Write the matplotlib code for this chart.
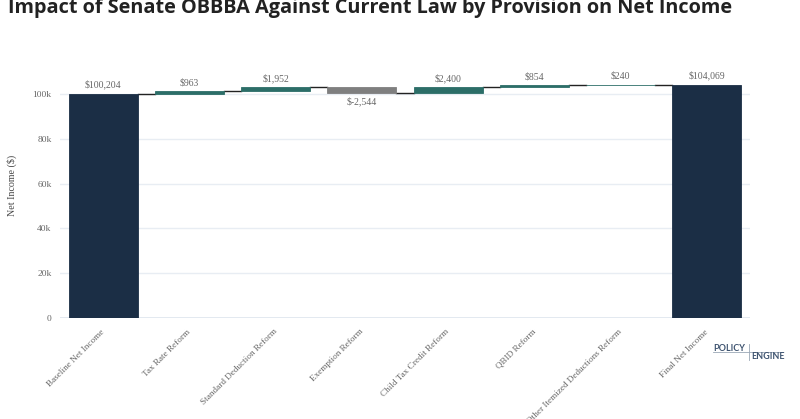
import numpy as np
import matplotlib.pyplot as plt

categories = ["Baseline Net Income", "Tax Rate Reform", "Standard Deduction Reform",
              "Exemption Reform", "Child Tax Credit Reform", "QBID Reform",
              "Other Itemized Deductions Reform", "Final Net Income"]
values = [100204, 963, 1952, -2544, 2400, 854, 240, 104069]
kinds = ["total", "delta", "delta", "delta", "delta", "delta", "delta", "total"]

NAVY = "#1b2e45"
TEAL = "#2c6e68"
GRAY = "#7f7f7f"
TXT = "#666666"
SERIF = "Liberation Serif"

fig = plt.figure(figsize=(8, 4.19), dpi=100)
ax = fig.add_axes([0.075, 0.241, 0.8625, 0.611])

x = np.arange(len(categories))
running = 0
bottoms, heights, colors, levels = [], [], [], []
for v, k in zip(values, kinds):
    if k == "total":
        bottoms.append(0)
        heights.append(v)
        colors.append(NAVY)
        running = v
    else:
        bottoms.append(running)
        heights.append(v)
        colors.append(TEAL if v > 0 else GRAY)
        running += v
    levels.append(running)

ax.bar(x, heights, bottom=bottoms, width=0.8, color=colors, edgecolor=colors,
       linewidth=0.6, zorder=3)

# connectors between bars
for i in range(len(x) - 1):
    ax.plot([x[i] + 0.4, x[i + 1] - 0.4], [levels[i], levels[i]],
            color="#222222", lw=1, zorder=2)

for i, (v, b) in enumerate(zip(values, bottoms)):
    label = "${:,}".format(v) if v >= 0 else "$-{:,}".format(-v)
    if v >= 0:
        ax.annotate(label, (x[i], b + v), xytext=(0, 3), textcoords="offset points",
                    ha="center", va="bottom", fontsize=7, color=TXT, family=SERIF)
    else:
        ax.annotate(label, (x[i], b + v), xytext=(0, -3), textcoords="offset points",
                    ha="center", va="top", fontsize=7, color=TXT, family=SERIF)

ax.set_xlim(-0.5, 7.5)
ax.set_ylim(0, 114300)
ax.set_yticks([0, 20000, 40000, 60000, 80000, 100000])
ax.set_yticklabels(["0", "20k", "40k", "60k", "80k", "100k"], family=SERIF,
                   fontsize=6.8, color=TXT)
ax.set_xticks(x)
ax.set_xticklabels(categories, rotation=45, ha="right", va="center", rotation_mode="anchor",
                   family=SERIF, fontsize=6.6, color=TXT)
ax.tick_params(length=0, pad=6)
ax.tick_params(axis="x", pad=9)
ax.grid(axis="y", color="#e8edf3", lw=1, zorder=0)
ax.axhline(0, color="#dde5ee", lw=1.2, zorder=1)
for s in ax.spines.values():
    s.set_visible(False)
ax.set_ylabel("Net Income ($)", family=SERIF, fontsize=7.2, color="#444444")
ax.yaxis.set_label_coords(-0.062, 0.52)

fig.text(0.01, 1 - 13 / 419, "Impact of Senate OBBBA Against Current Law by Provision on Net Income",
         family="Open Sans", fontweight="bold", fontsize=14.3, color="#222222", va="baseline")

# logo
fig.text(713 / 800, 1 - 350.5 / 419, "POLICY", family="Lato", fontweight="bold",
         fontsize=6.5, color="#3f5470", va="baseline")
fig.text(751 / 800, 1 - 359 / 419, "ENGINE", family="Lato", fontweight="bold",
         fontsize=6.5, color="#3f5470", va="baseline")
fig.add_artist(plt.Line2D([713 / 800, 783 / 800], [1 - 352 / 419, 1 - 352 / 419],
                          color="#9aa7b6", lw=0.6))
fig.add_artist(plt.Line2D([749 / 800, 749 / 800], [1 - 344 / 419, 1 - 360 / 419],
                          color="#9aa7b6", lw=0.6))

fig.savefig("out.png", dpi=100, facecolor="white")
